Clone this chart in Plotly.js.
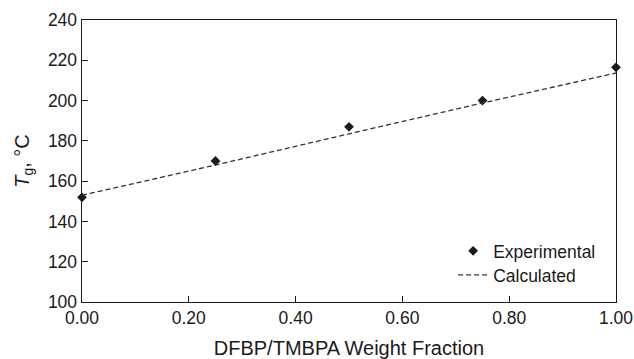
<!DOCTYPE html>
<html>
<head>
<meta charset="utf-8">
<script src="https://cdn.plot.ly/plotly-3.0.1.min.js"></script>
<style>html,body{margin:0;padding:0;background:#fff;}#chart{width:634px;height:359px;}</style>
</head>
<body>
<div id="chart"></div>
<script>
// Data
const fraction = [0.00, 0.25, 0.50, 0.75, 1.00];
const tgExperimental = [152, 170, 187, 200, 216.5];
const calcFraction = [0.00, 0.25, 0.50, 0.75, 1.00];
const tgCalculated = [153, 168, 183.5, 198.8, 213.7];
const xTickVals = [0, 0.2, 0.4, 0.6, 0.8, 1.0];
const yTickVals = [100, 120, 140, 160, 180, 200, 220, 240];

const FONT = 'Liberation Sans, Arial, sans-serif';
const legendBase = {
  xanchor: 'left', yanchor: 'middle',
  bgcolor: 'rgba(0,0,0,0)', borderwidth: 0,
  font: {family: FONT, size: 17.5, color: '#1a1a1a'}
};

const traces = [
  {
    x: fraction, y: tgExperimental, name: 'Experimental',
    type: 'scatter', mode: 'markers',
    marker: {symbol: 'diamond', size: 7.5, color: '#1a1a1a'},
    cliponaxis: false, legend: 'legend'
  },
  {
    x: calcFraction, y: tgCalculated, name: 'Calculated',
    type: 'scatter', mode: 'lines',
    line: {color: '#333', width: 1.3, dash: '5px,3px'},
    legend: 'legend2'
  }
];

const layout = {
  width: 634, height: 359,
  margin: {l: 82, r: 18, t: 20, b: 57},
  paper_bgcolor: '#fff', plot_bgcolor: '#fff',
  font: {family: FONT, size: 17.5, color: '#1a1a1a'},
  showlegend: true,
  legend: Object.assign({x: 0.695, y: 0.181}, legendBase),
  legend2: Object.assign({x: 0.695, y: 0.096}, legendBase),
  xaxis: {
    range: [0, 1], tickvals: xTickVals, tickformat: '.2f',
    ticks: 'inside', ticklen: 6, tickwidth: 1.2, tickcolor: '#1a1a1a',
    showline: true, linecolor: '#1a1a1a', linewidth: 1.4, mirror: true,
    showgrid: false, zeroline: false,
    title: {text: 'DFBP/TMBPA Weight Fraction', font: {family: FONT, size: 20}, standoff: 15},
    automargin: false
  },
  yaxis: {
    range: [100, 240], tickvals: yTickVals,
    ticks: 'inside', ticklen: 6, tickwidth: 1.2, tickcolor: '#1a1a1a',
    showline: true, linecolor: '#1a1a1a', linewidth: 1.4, mirror: true,
    showgrid: false, zeroline: false,
    title: {text: '<i>T</i><sub>g</sub>, °C', font: {family: FONT, size: 20}, standoff: 13},
    automargin: false
  }
};

Plotly.newPlot('chart', traces, layout, {staticPlot: true, displayModeBar: false});
</script>
</body>
</html>
